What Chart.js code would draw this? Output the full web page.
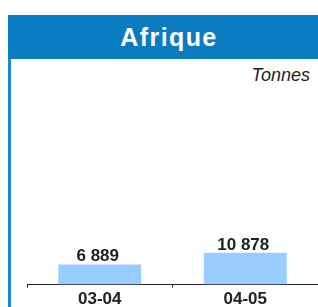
<!DOCTYPE html>
<html>
<head>
<meta charset="utf-8">
<script src="https://cdn.jsdelivr.net/npm/chart.js@4/dist/chart.umd.min.js"></script>
<style>
  html, body { margin: 0; padding: 0; background: #fff; }
  body { width: 318px; height: 307px; position: relative; overflow: hidden; font-family: "Liberation Sans", Arial, sans-serif; }
  #frame { position: absolute; left: 8px; top: 59px; width: 3px; height: 248px; background: #138bd8; }
  #header {
    position: absolute; left: 8px; top: 15px; width: 310px; height: 44px;
    background: #0a7bc1; color: #fff; box-sizing: border-box; padding-left: 12px;
    text-align: center; font-weight: bold; font-size: 25px; line-height: 44px; letter-spacing: 1.4px;
  }
  #unit { position: absolute; right: 8px; top: 66px; font-style: italic; font-size: 18px; line-height: 18px; color: #222; }
  #wrap { position: absolute; left: 11px; top: 59px; width: 307px; height: 253px; }
</style>
</head>
<body>
<div id="header">Afrique</div>
<div id="frame"></div>
<div id="unit">Tonnes</div>
<div id="wrap"><canvas id="chart" width="307" height="253"></canvas></div>
<script>
const categories = ["03-04", "04-05"];
const tonnes = [6889, 10878];
const valueLabels = ["6 889", "10 878"];

const valueLabelPlugin = {
  id: "valueLabels",
  afterDatasetsDraw(chart) {
    const ctx = chart.ctx;
    const meta = chart.getDatasetMeta(0);
    ctx.save();
    ctx.font = "bold 17px 'Liberation Sans', Arial, sans-serif";
    ctx.fillStyle = "#222";
    ctx.textAlign = "center";
    ctx.textBaseline = "alphabetic";
    meta.data.forEach((bar, i) => {
      ctx.fillText(valueLabels[i], bar.x - 2, bar.y - 3);
    });
    ctx.restore();
  }
};

new Chart(document.getElementById("chart"), {
  type: "bar",
  data: {
    labels: categories,
    datasets: [
      {
        data: tonnes,
        backgroundColor: "#99ccff",
        borderWidth: 0,
        barPercentage: 0.57,
        categoryPercentage: 1,
      },
    ],
  },
  options: {
    responsive: false,
    maintainAspectRatio: false,
    animation: false,
    layout: { padding: { left: 16, right: 0, top: 30, bottom: 0 } },
    plugins: {
      legend: { display: false },
      tooltip: { enabled: false },
    },
    scales: {
      x: {
        grid: {
          display: true,
          drawOnChartArea: false,
          drawTicks: true,
          tickLength: 3,
          tickColor: "#222",
          offset: true,
        },
        border: { display: true, color: "#222", width: 1 },
        ticks: {
          color: "#222",
          padding: 2,
          font: { family: "'Liberation Sans', Arial, sans-serif", size: 17, weight: "bold" },
        },
      },
      y: {
        display: false,
        min: 0,
        max: 67000,
      },
    },
  },
  plugins: [valueLabelPlugin],
});
</script>
</body>
</html>
